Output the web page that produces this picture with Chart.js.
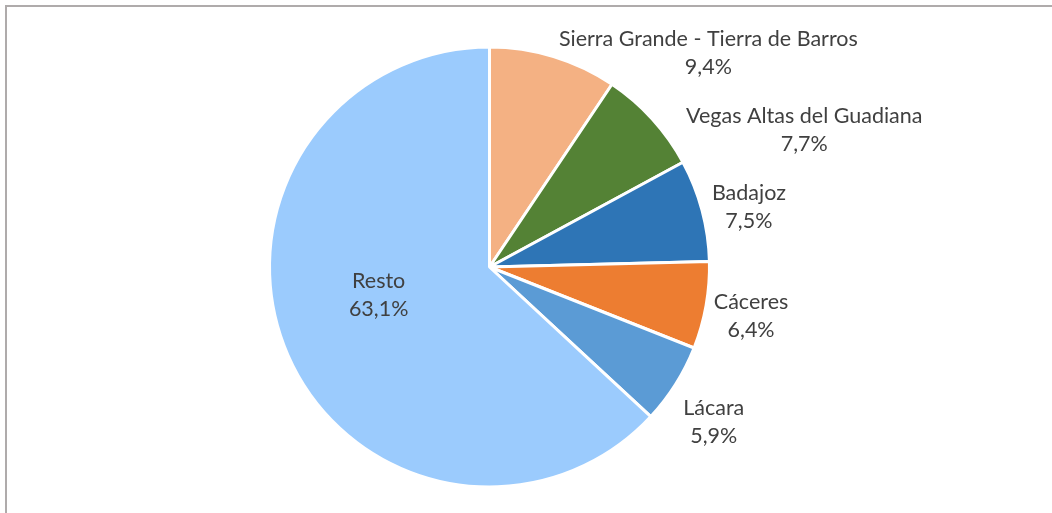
<!DOCTYPE html>
<html>
<head>
<meta charset="utf-8">
<script src="https://cdn.jsdelivr.net/npm/chart.js@4"></script>
<style>
    html, body { margin: 0; padding: 0; background: #fff; }
    #wrap { position: relative; width: 1052px; height: 513px; overflow: hidden; }
    #frame { position: absolute; left: 5px; top: 5px; width: 1100px; height: 600px;
             border-left: 2px solid #afabab; border-top: 2px solid #afabab; }
    canvas { position: absolute; left: 0; top: 0; }
</style>
</head>
<body>
<div id="wrap">
    <canvas id="pieChart" width="1052" height="513"></canvas>
    <div id="frame"></div>
</div>
<script>
// Chart data
const categories = ['Sierra Grande - Tierra de Barros', 'Vegas Altas del Guadiana', 'Badajoz', 'Cáceres', 'Lácara', 'Resto'];
const shares = [9.4, 7.7, 7.5, 6.4, 5.9, 63.1];
const sliceColors = ['#F4B183', '#548235', '#2E75B6', '#ED7D31', '#5B9BD5', '#9BCBFD'];

// Label placement: angle from 12 o'clock (deg) and distance in radii
const labelPlacement = [[45.7, 1.39], [66.5, 1.56], [77, 1.21], [100.7, 1.21], [124.7, 1.24], [255.7, 0.52]];

const textColor = '#404040';
const fontFamily = 'Lato, "Open Sans", sans-serif';

// Draw category name + percentage for each slice
const sliceLabels = {
    id: 'sliceLabels',
    afterDatasetsDraw(chart) {
        const ctx = chart.ctx;
        const meta = chart.getDatasetMeta(0);
        ctx.save();
        ctx.fillStyle = textColor;
        ctx.font = '21.5px ' + fontFamily;
        ctx.textAlign = 'center';
        ctx.textBaseline = 'middle';
        meta.data.forEach((arc, i) => {
            const [deg, dist] = labelPlacement[i];
            const a = deg * Math.PI / 180;
            const x = arc.x + Math.sin(a) * arc.outerRadius * dist;
            const y = arc.y - Math.cos(a) * arc.outerRadius * dist;
            ctx.fillText(categories[i], x, y - 14);
            ctx.fillText(shares[i].toFixed(1).replace('.', ',') + '%', x, y + 14);
        });
        ctx.restore();
    }
};

const ctx = document.getElementById('pieChart').getContext('2d');
new Chart(ctx, {
    type: 'pie',
    data: {
        labels: categories,
        datasets: [{
            data: shares,
            backgroundColor: sliceColors,
            borderColor: '#ffffff',
            borderWidth: 3
        }]
    },
    options: {
        responsive: false,
        animation: false,
        layout: {
            padding: { left: 268, right: 341, top: 45, bottom: 24 }
        },
        plugins: {
            legend: { display: false },
            tooltip: { enabled: false }
        }
    },
    plugins: [sliceLabels]
});
</script>
</body>
</html>
